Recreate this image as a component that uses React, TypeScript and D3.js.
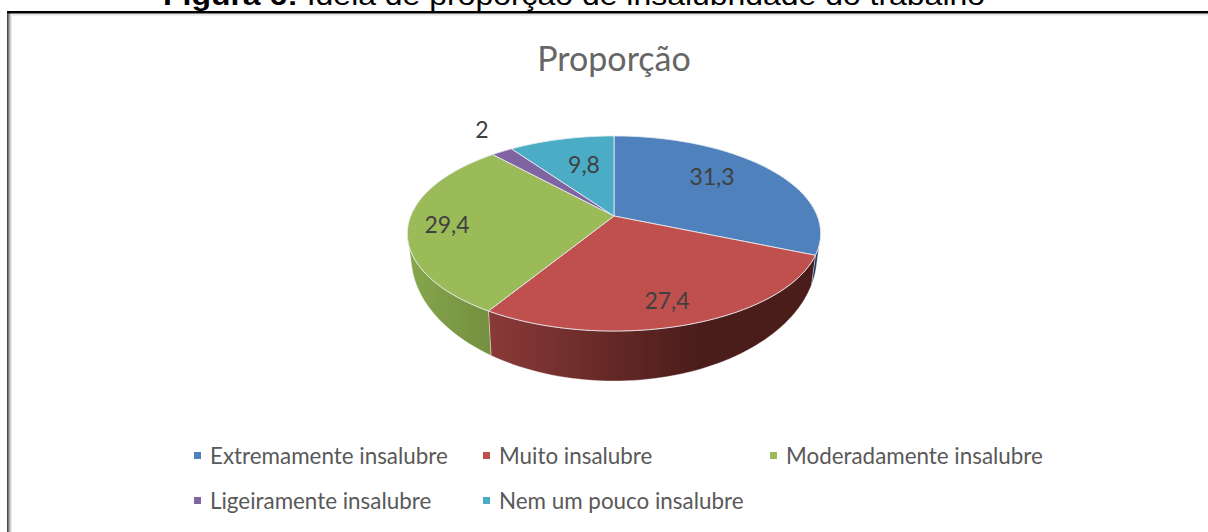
import React from "react";
import * as d3 from "d3";

const categories = ["Extremamente insalubre", "Muito insalubre", "Moderadamente insalubre", "Ligeiramente insalubre", "Nem um pouco insalubre"];
const values = [31.3, 27.4, 29.4, 2, 9.8];
const valueLabels = ["31,3", "27,4", "29,4", "2", "9,8"];
const colors = ["#4f81bd", "#c0504d", "#9bbb59", "#8064a2", "#4bacc6"];
const wallStops = [["#1f3d66", "#1f3d66"], ["#8a3a38", "#4a1c1a"], ["#86a64c", "#748f40"], ["#4d3c62", "#4d3c62"], ["#2d6a7a", "#2d6a7a"]];
const labelPos = [[712, 177], [667, 301], [447, 225], [482, 130], [584, 165]];
const legendPos = [[198, 456], [487, 456], [774, 456], [198, 501], [487, 501]];
const borderGreys = ["#4a4a4a", "#7d7d7d", "#a8a8a8", "#cfcfcf", "#ececec"];
const W = 1208, H = 532;
const cx = 614, hubY = 216, a = 94.4, b = 203.3, k = 0.1795;
const ellCy = 233.5;
const lowRx = 203, lowCy = 256, lowRy = 125, shrink = 0.98;

const top = (t: number): [number, number] => {
  const u = Math.sin(t), v = -Math.cos(t), d = 1 - k * v;
  return [cx + b * u / d, hubY + a * v / d];
};
const low = (t: number): [number, number] => {
  const x = cx + (top(t)[0] - cx) * shrink;
  const r = (x - cx) / lowRx;
  return [x, lowCy + lowRy * Math.sqrt(Math.max(0, 1 - r * r))];
};

const slices = d3.pie<number>().sort(null).value((d) => d)(values);
const line = d3.line();
const samples = (s: number, e: number) => d3.range(0, 61).map((i) => s + (e - s) * i / 60);

export default function App() {
  const fontFamily = "Lato, sans-serif";
  return (
    <svg width={W} height={H} style={{ position: "absolute", left: 0, top: 0, background: "#fff" }}>
      <defs>
        {wallStops.map((s, i) => (
          <linearGradient key={i} id={`w${i}`} gradientUnits="userSpaceOnUse" x1={i === 1 ? 490 : 410} x2={i === 1 ? 700 : 490} y1={0} y2={0}>
            <stop offset="0" stopColor={s[0]} />
            <stop offset="1" stopColor={s[1]} />
          </linearGradient>
        ))}
      </defs>
      <text x={163} y={5} fontFamily="Liberation Sans" fontSize={27} fill="#000" textLength={822} lengthAdjust="spacingAndGlyphs">
        <tspan fontWeight="bold">Figura 6:</tspan> Ideia de proporção de insalubridade do trabalho
      </text>
      <rect x={7} y={14} width={W - 7} height={1.5} fill="#e4e4e4" />
      {borderGreys.map((g, i) => (
        <rect key={g} x={7 + i} y={13} width={1} height={H - 13} fill={g} />
      ))}
      <rect x={7} y={11} width={W - 7} height={2.5} fill="#000" />
      <text x={614} y={70.5} textAnchor="middle" fontFamily={fontFamily} fontSize={34} fill="#666">Proporção</text>

      {slices.map((s, i) => {
        const ts = samples(s.startAngle, s.endAngle).filter((t) => top(t)[1] >= ellCy);
        if (ts.length < 2) return null;
        const pts = [...ts.map(top), ...ts.slice().reverse().map(low)];
        return <path key={i} d={line(pts as [number, number][]) + "Z"} fill={`url(#w${i})`} stroke="#fff" strokeOpacity={0.5} strokeWidth={0.7} />;
      })}
      {slices.map((s, i) => {
        const pts: [number, number][] = [[cx, hubY], ...samples(s.startAngle, s.endAngle).map(top)];
        return <path key={i} d={line(pts) + "Z"} fill={colors[i]} stroke="#e6ebf1" strokeOpacity={0.85} strokeWidth={1} strokeLinejoin="round" />;
      })}
      {valueLabels.map((l, i) => (
        <text key={i} x={labelPos[i][0]} y={labelPos[i][1]} dy="0.35em" textAnchor="middle" fontFamily={fontFamily} fontSize={23} fill="#404040">{l}</text>
      ))}
      {categories.map((c, i) => (
        <g key={c}>
          <rect x={legendPos[i][0] - 4} y={legendPos[i][1] - 4} width={7} height={7} fill={colors[i]} />
          <text x={legendPos[i][0] + 12} y={legendPos[i][1]} dy="0.35em" fontFamily={fontFamily} fontSize={22.4} fill="#595959">{c}</text>
        </g>
      ))}
    </svg>
  );
}
